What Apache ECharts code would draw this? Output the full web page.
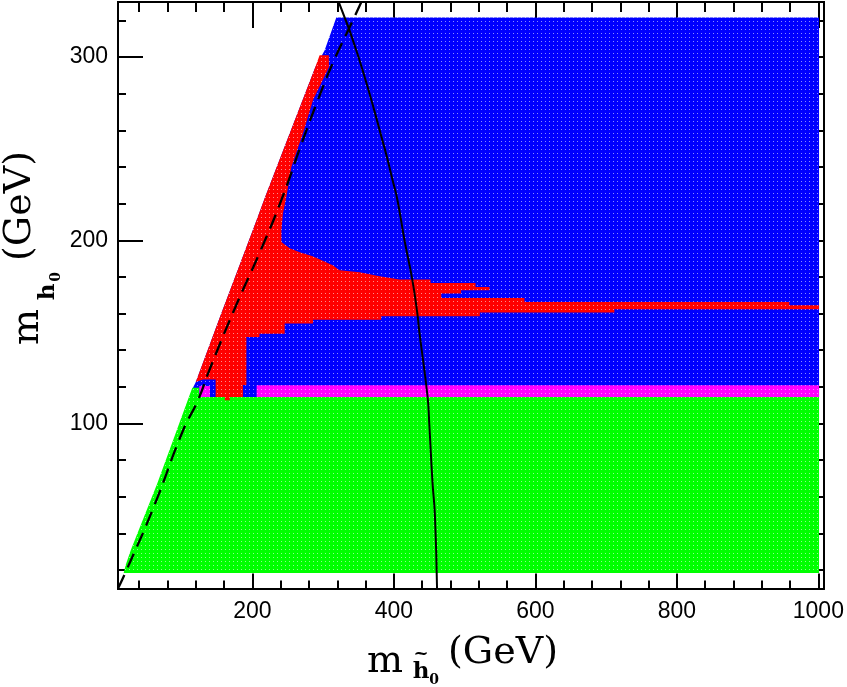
<!DOCTYPE html>
<html>
<head>
<meta charset="utf-8">
<script src="https://cdn.jsdelivr.net/npm/echarts@6/dist/echarts.min.js"></script>
<style>
html,body{margin:0;padding:0;background:#fff;}
#chart{width:847px;height:687px;}
</style>
</head>
<body>
<div id="chart"></div>
<script>
// ---- axis ranges & ticks ----
const xRange = [10, 1008];
const yRange = [10, 330];
const xMajorTicks = [200, 400, 600, 800, 1000];
const xMinorTicks = [40, 80, 120, 160, 240, 280, 320, 360, 440, 480, 520, 560, 640, 680, 720, 760, 840, 880, 920, 960];
const yMajorTicks = [100, 200, 300];
const yMinorTicks = [20, 40, 60, 80, 120, 140, 160, 180, 220, 240, 260, 280, 320];

// ---- coloured scan regions (m_htilde, m_h) in GeV ----
const blueRegion = [[116,114.5],[1001,114.5],[1001,321.5],[318.6,321.5],[302,303.6],[289,294.5],[218,223.6],[206,211],[154,158],[120,122.7],[116,119.5]];
const greenRegion = [[18,18.5],[1001,18.5],[1001,114.5],[125,114.5],[125,119.5],[115,119.5],[65.5,67.3],[28,30.9],[21,23]];
const magentaRegion = [[206,114.5],[1001,114.5],[1001,120.9],[206,120.9]];
const magentaPatch = [[125,114.5],[140,114.5],[140,120.5],[125,120.5]];
const redRegion = [[295,301],[308,301],[308.2,294.5],[285.6,276.4],[271.5,258.4],[255.1,240],[248,223.6],[243.2,214.7],[241,205.5],[241,199],
  [252.7,195.6],[266.8,193.4],[285.2,191.3],[297.9,189.1],[313.4,186.4],[323.3,183.6],[351.6,182.5],[379.8,180.3],[408,178.6],
  [451.8,178.6],[451.8,176.7],[515.4,176.7],[515.4,174.5],[535.2,174.5],[535.2,172.7],[495,172.7],[495,170.9],[467,170.9],[467,168.5],
  [584.6,168.5],[584.6,166.3],[959,166.3],[959,164.5],[1001,164.5],[1001,162.4],[711.7,162.4],[711.7,160.6],[521.5,160.6],[521.5,158.5],
  [382,158.5],[382,156.7],[285.6,156.7],[285.6,154.6],[245.6,154.6],[245.6,149],[210,149],[210,147.2],[191.5,147.2],[191.5,121],
  [186.6,121],[186.6,114.5],[168,114.5],[168,112.7],[161,112.7],[161,114.5],[148,114.5],[148,124],[130,124],[120,122.7],
  [154,158],[206,211],[218,223.6],[289,294.5]];

// ---- contour curves ----
const dashedCurve = [[10,10],[22,20],[60,54],[102,96.3],[123,112.7],[140,130],[177,164.5],[210,193],[241,222],[267,250],[290,274],[314,297],[342,320],[354,330]];
const solidCurve = [[322,330],[350,300],[387,250],[398,233],[405,222],[415,200],[426,178.5],[433,160.5],[436,150],[447.6,114.7],[450,100],[454.6,67.8],[458,50],[461,10]];

function texture(color){
  const c = document.createElement('canvas');
  c.width = 4; c.height = 4;
  const g = c.getContext('2d');
  g.fillStyle = color; g.fillRect(0,0,4,4);
  g.fillStyle = 'rgba(255,255,255,0.55)'; g.fillRect(1,1,1,1);
  return {image: c, repeat: 'repeat'};
}

const regions = [
  {pts: blueRegion, color: '#0000ff'},
  {pts: greenRegion, color: '#00ff00'},
  {pts: magentaRegion, color: '#ff00ff'},
  {pts: magentaPatch, color: '#ff00ff'},
  {pts: redRegion, color: '#ff0000'}
];

const chart = echarts.init(document.getElementById('chart'), null, {renderer: 'canvas'});
const tickFont = 'Liberation Sans';
const tickRich = {t: {fontFamily: tickFont, fontSize: 23, color: '#000'}};
function mkAxis(kind, pos, vals, len, labels){
  const rng = kind === 'x' ? xRange : yRange;
  return {type:'value', position: pos, min: rng[0], max: rng[1],
    axisLine:{show:true, onZero:false, lineStyle:{color:'#000', width:2}},
    axisTick:{show:true, inside:true, length:len, customValues: vals, lineStyle:{color:'#000', width:2}},
    axisLabel: labels ? {show:true, margin: kind === 'x' ? 12 : 10, customValues: vals, fontSize: 23, fontFamily: tickFont, color:'#000',
      formatter: v => '{t|' + v + '}', rich: tickRich} : {show:false},
    splitLine:{show:false}};
}

const serif = 'DejaVu Serif';
function txt(x, y, text, font, rot, align){
  const o = {type:'text', x:x, y:y, style:{text:text, font:font, fill:'#000', align: align || 'center', verticalAlign:'middle'}};
  if (rot) o.rotation = rot;
  return o;
}
chart.setOption({
  animation: false,
  backgroundColor: '#fff',
  grid: {left: 118, top: 2, width: 706, height: 586.5},
  xAxis: [mkAxis('x','bottom', xMajorTicks, 15, true), mkAxis('x','bottom', xMinorTicks, 8, false), mkAxis('x','top', xMajorTicks, 26, false), mkAxis('x','top', xMinorTicks, 10, false)],
  yAxis: [mkAxis('y','left', yMajorTicks, 25, true), mkAxis('y','left', yMinorTicks, 8, false), mkAxis('y','right', yMajorTicks, 15, false), mkAxis('y','right', yMinorTicks, 6, false)],
  series: [
    {type:'custom', xAxisIndex:0, yAxisIndex:0, silent:true,
      data: regions.map((r,i)=>[i]),
      renderItem: function(params, api){
        const r = regions[params.dataIndex];
        return {type:'polygon', shape:{points: r.pts.map(p=>api.coord(p))}, style:{fill: texture(r.color), stroke:null}};
      }},
    {type:'line', xAxisIndex:0, yAxisIndex:0, data: dashedCurve, showSymbol:false, smooth:true, silent:true,
      lineStyle:{color:'#000', width:2.3, type:[15,8]}},
    {type:'line', xAxisIndex:0, yAxisIndex:0, data: solidCurve, showSymbol:false, smooth:true, silent:true,
      lineStyle:{color:'#000', width:2}}
  ],
  graphic: [
    txt(385, 662, 'm', '38px "'+serif+'"'),
    txt(421, 672, 'h', 'bold 23px "'+serif+'"'),
    txt(421, 654, '~', 'bold 18px "'+serif+'"'),
    txt(434, 680, '0', 'bold 14px "'+serif+'"'),
    txt(503, 653, '(GeV)', '38px "'+serif+'"'),
    txt(28, 327, 'm', '38px "'+serif+'"', Math.PI/2),
    txt(48, 292, 'h', 'bold 23px "'+serif+'"', Math.PI/2),
    txt(56, 277, '0', 'bold 14px "'+serif+'"', Math.PI/2),
    txt(20, 206, '(GeV)', '38px "'+serif+'"', Math.PI/2)
  ]
});
</script>
</body>
</html>
